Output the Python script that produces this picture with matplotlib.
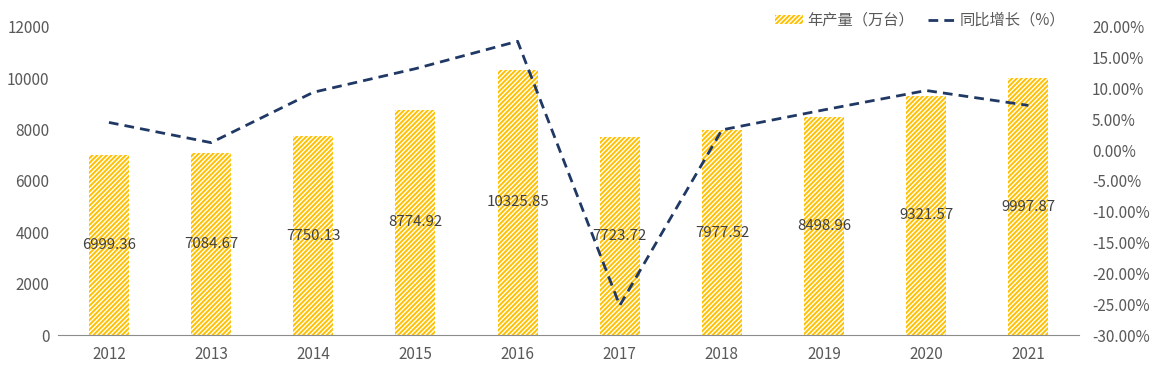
import matplotlib.pyplot as plt
from matplotlib.patches import Patch
from matplotlib.lines import Line2D
from matplotlib.ticker import FuncFormatter

plt.rcParams['font.family'] = ['Noto Sans CJK SC', 'DejaVu Sans']
plt.rcParams['hatch.linewidth'] = 1.4

years = ['2012', '2013', '2014', '2015', '2016', '2017', '2018', '2019', '2020', '2021']
output = [6999.36, 7084.67, 7750.13, 8774.92, 10325.85, 7723.72, 7977.52, 8498.96, 9321.57, 9997.87]
growth = [4.5, 1.22, 9.39, 13.22, 17.67, -25.2, 3.29, 6.54, 9.68, 7.26]

bar_color = '#FFC000'
line_color = '#203864'
text_color = '#595959'

fig = plt.figure(figsize=(11.57, 3.79), dpi=100)
ax = fig.add_axes([0.050, 0.116, 0.883, 0.813])
x = range(len(years))

bars = ax.bar(x, output, width=0.39, color='white', edgecolor=bar_color,
              linewidth=0, hatch='///////')
for i, v in enumerate(output):
    ax.text(i, v / 2, f'{v:.2f}', ha='center', va='center', fontsize=10.8, color='#404040')

ax.set_xlim(-0.5, len(years) - 0.5)
ax.set_ylim(0, 12000)
ax.set_yticks(range(0, 12001, 2000))
ax.set_xticks(list(x))
ax.set_xticklabels(years)
for s in ['top', 'right', 'left']:
    ax.spines[s].set_visible(False)
ax.spines['bottom'].set_color('#8c8c8c')
ax.tick_params(axis='both', length=0, labelsize=11, labelcolor=text_color)
ax.tick_params(axis='x', pad=8)
ax.tick_params(axis='y', pad=6)

ax2 = ax.twinx()
ax2.plot(x, growth, color=line_color, linewidth=2, linestyle=(0, (3.5, 2.2)))
ax2.set_ylim(-30, 20)
ax2.set_yticks(range(-30, 21, 5))
ax2.yaxis.set_major_formatter(FuncFormatter(lambda v, p: f'{v:.2f}%'))
for s in ['top', 'right', 'left', 'bottom']:
    ax2.spines[s].set_visible(False)
ax2.tick_params(axis='y', length=0, labelsize=11, labelcolor=text_color, pad=9)

handles = [Patch(facecolor='white', edgecolor=bar_color, linewidth=0, hatch='///////'),
           Line2D([0], [0], color=line_color, linewidth=2, linestyle=(0, (3.5, 2.2)))]
leg = fig.legend(handles, ['年产量（万台）', '同比增长（%）'], loc='upper right',
                 bbox_to_anchor=(0.933, 1.005), ncol=2, frameon=False, fontsize=11,
                 handlelength=1.8, handleheight=0.6, columnspacing=0.9, handletextpad=0.3)
for t in leg.get_texts():
    t.set_color(text_color)

fig.savefig('out.png', dpi=100)
